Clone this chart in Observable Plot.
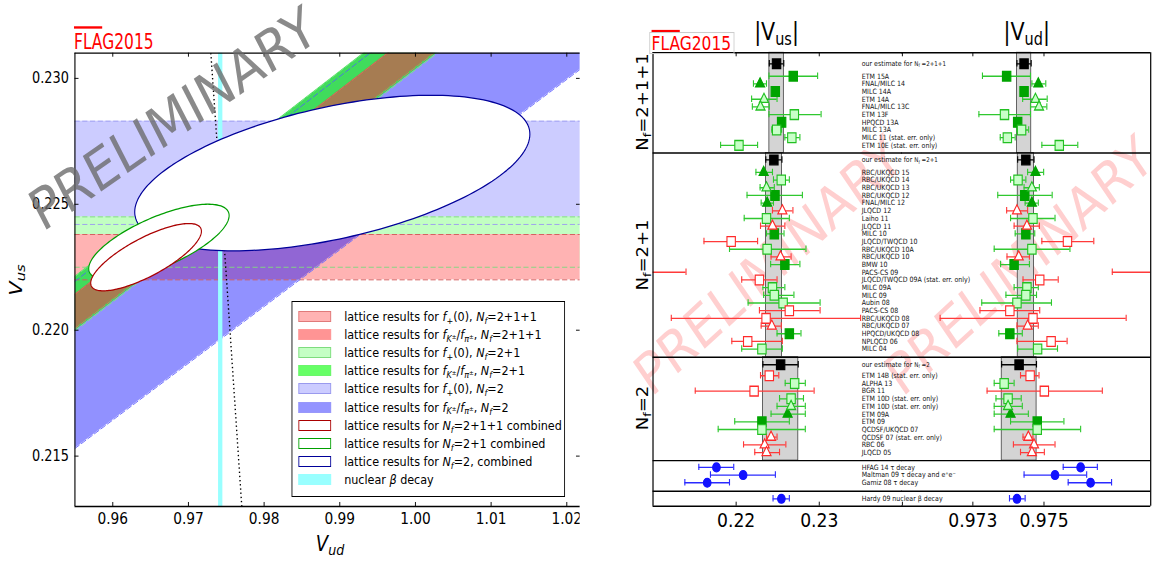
<!DOCTYPE html>
<html>
<head>
<meta charset="utf-8">
<script src="https://cdn.jsdelivr.net/npm/d3@7"></script>
<script src="https://cdn.jsdelivr.net/npm/@observablehq/plot@0.6"></script>
<style>
  html, body { margin: 0; padding: 0; background: #fff; overflow: hidden; width: 1153px; height: 562px; }
  #wrap { position: relative; width: 1341px; height: 562px; transform: scaleX(0.86); transform-origin: 0 0;
          font-family: "DejaVu Sans", sans-serif; color: #000; }
  .ov { position: absolute; white-space: nowrap; line-height: 1; font-family: "DejaVu Sans", sans-serif; }
  .ov sub { font-size: 70%; vertical-align: -0.28em; line-height: 0; }
  .ov sup { font-size: 70%; vertical-align: 0.45em; line-height: 0; }
  .lg-row { position: absolute; left: 0; height: 18px; width: 100%; }
  .lg-sw { position: absolute; top: 2px; height: 11px; box-sizing: border-box; border: 1.6px solid; }
  .lg-tx { position: absolute; top: 0; font-size: 13px; line-height: 16px; white-space: nowrap; }
  .lg-tx sub { font-size: 72%; vertical-align: -0.3em; line-height: 0; }
  .lg-tx sup { font-size: 70%; vertical-align: 0.5em; line-height: 0; }
</style>
</head>
<body>
<div id="wrap"></div>
<script>
// ===================== DATA : left panel (Vud vs Vus plane) =====================
const vudDomain = [0.955, 1.0218];
const vusDomain = [0.213, 0.231];
const vudTicks = [0.96, 0.97, 0.98, 0.99, 1.00, 1.01, 1.02];
const vusTicks = [0.215, 0.220, 0.225, 0.230];

// f+(0) results -> horizontal bands in Vus
const fPlusNf = ["2", "2+1", "2+1+1"];
const fPlusVusLow = [0.2242, 0.2225, 0.2220];
const fPlusVusHigh = [0.2283, 0.2245, 0.2238];

// fK/fpi results -> bands in the ratio Vus/Vud
const ratioNf = ["2", "2+1", "2+1+1"];
const ratioLow = [0.22545, 0.23034, 0.23044];
const ratioHigh = [0.2324, 0.2326, 0.23186];

// combined lattice results (error ellipses)
const ellipseNf = ["2", "2+1", "2+1+1"];
const ellipseVud = [0.98901, 0.96610, 0.96440];
const ellipseVus = [0.22624, 0.22350, 0.22290];
const ellipseVudHalf = [0.02611, 0.009278, 0.007316];
const ellipseVusHalf = [0.003089, 0.001503, 0.001336];
const ellipseCorr = [0.50, 0.70, 0.77];

// nuclear beta decay band and unitarity curve
const betaVud = [0.97397, 0.97454];
const unitarityVus = [0.213, 0.222, 0.231];
const unitarityVud = [0.97705, 0.97504, 0.97296];

const legendLabels = [
  'lattice results for <i>f</i><sub>+</sub>(0), <i>N<sub>f</sub></i>=2+1+1',
  'lattice results for <i>f</i><sub><i>K</i><sup>±</sup></sub>/<i>f</i><sub><i>π</i><sup>±</sup></sub>, <i>N<sub>f</sub></i>=2+1+1',
  'lattice results for <i>f</i><sub>+</sub>(0), <i>N<sub>f</sub></i>=2+1',
  'lattice results for <i>f</i><sub><i>K</i><sup>±</sup></sub>/<i>f</i><sub><i>π</i><sup>±</sup></sub>, <i>N<sub>f</sub></i>=2+1',
  'lattice results for <i>f</i><sub>+</sub>(0), <i>N<sub>f</sub></i>=2',
  'lattice results for <i>f</i><sub><i>K</i><sup>±</sup></sub>/<i>f</i><sub><i>π</i><sup>±</sup></sub>, <i>N<sub>f</sub></i>=2',
  'lattice results for <i>N<sub>f</sub></i>=2+1+1 combined',
  'lattice results for <i>N<sub>f</sub></i>=2+1 combined',
  'lattice results for <i>N<sub>f</sub></i>=2, combined',
  'nuclear <i>β</i> decay'
];

// ===================== DATA : right panel (|Vus|, |Vud| per result) =====================
const usDomain = [0.21, 0.24];
const udDomain = [0.971, 0.978];
const usTicks = [0.22, 0.23];
const udTicks = [0.973, 0.975];

const estNf = ["2+1+1", "2+1", "2"];
const estVus   = [0.22486, 0.22454, 0.22535];
const estVusLo = [0.22399, 0.22357, 0.22322];
const estVusHi = [0.22573, 0.22551, 0.22747];
const estVud   = [0.97444, 0.97449, 0.97430];
const estVudLo = [0.97424, 0.97426, 0.97381];
const estVudHi = [0.97464, 0.97472, 0.97479];

// Nf = 2+1+1  (method: "fK" = fK/fpi, "fp" = f+(0); rating: used / ok / fail)
const nf211Names = ["ETM 15A", "FNAL/MILC 14", "MILC 14A", "ETM 14A", "FNAL/MILC 13C", "ETM 13F", "HPQCD 13A", "MILC 13A", "MILC 11 (stat. err. only)", "ETM 10E (stat. err. only)"];
const nf211Method = ["fK", "fp", "fK", "fp", "fp", "fK", "fK", "fK", "fK", "fK"];
const nf211Rating = ["used", "used", "used", "ok", "ok", "ok", "used", "ok", "ok", "ok"];
const nf211Vus   = [0.22687, 0.22288, 0.22471, 0.22335, 0.22293, 0.22700, 0.22547, 0.22487, 0.22670, 0.22034];
const nf211VusLo = [0.22395, 0.22208, 0.22440, 0.22186, 0.22195, 0.22395, 0.22520, 0.22429, 0.22586, 0.21813];
const nf211VusHi = [0.22980, 0.22365, 0.22502, 0.22492, 0.22399, 0.23022, 0.22574, 0.22547, 0.22767, 0.22258];
const nf211Vud   = [0.97395, 0.97484, 0.97444, 0.97476, 0.97486, 0.97389, 0.97426, 0.97437, 0.97397, 0.97543];
const nf211VudLo = [0.97327, 0.97466, 0.97437, 0.97440, 0.97462, 0.97317, 0.97419, 0.97424, 0.97377, 0.97494];
const nf211VudHi = [0.97462, 0.97505, 0.97451, 0.97509, 0.97508, 0.97462, 0.97433, 0.97457, 0.97419, 0.97595];

// Nf = 2+1
const nf21Names = ["RBC/UKQCD 15", "RBC/UKQCD 14", "RBC/UKQCD 13", "RBC/UKQCD 12", "FNAL/MILC 12", "JLQCD 12", "Laiho 11", "JLQCD 11", "MILC 10", "JLQCD/TWQCD 10", "RBC/UKQCD 10A", "RBC/UKQCD 10", "BMW 10", "PACS-CS 09", "JLQCD/TWQCD 09A (stat. err. only)", "MILC 09A", "MILC 09", "Aubin 08", "PACS-CS 08", "RBC/UKQCD 08", "RBC/UKQCD 07", "HPQCD/UKQCD 08", "NPLQCD 06", "MILC 04"];
const nf21Method = ["fp", "fK", "fp", "fK", "fp", "fp", "fK", "fp", "fK", "fK", "fK", "fp", "fK", "fK", "fK", "fK", "fK", "fK", "fK", "fK", "fp", "fK", "fK", "fK"];
const nf21Rating = ["used", "ok", "ok", "used", "used", "fail", "ok", "fail", "used", "fail", "ok", "fail", "used", "fail", "fail", "ok", "ok", "ok", "fail", "fail", "fail", "used", "fail", "ok"];
const nf21Vus   = [0.22331, 0.22543, 0.22365, 0.22467, 0.22373, 0.22556, 0.22365, 0.22437, 0.22459, 0.21940, 0.22373, 0.22534, 0.22586, 0.2070, 0.22280, 0.22437, 0.22459, 0.22565, 0.22640, 0.22360, 0.22429, 0.22640, 0.22139, 0.22310];
const nf21VusLo = [0.22238, 0.22449, 0.22288, 0.22131, 0.22301, 0.22437, 0.22097, 0.22293, 0.22365, 0.21613, 0.21920, 0.22420, 0.22415, 0.2000, 0.22067, 0.22322, 0.22331, 0.22144, 0.22280, 0.21220, 0.22301, 0.22492, 0.21948, 0.22067];
const nf21VusHi = [0.22437, 0.22640, 0.22459, 0.22797, 0.22449, 0.22683, 0.22640, 0.22586, 0.22576, 0.22258, 0.22840, 0.22661, 0.22767, 0.21397, 0.22492, 0.22586, 0.22695, 0.23010, 0.23010, 0.23497, 0.22543, 0.22780, 0.22556, 0.22556];
const nf21Vud   = [0.97476, 0.97427, 0.97466, 0.97446, 0.97466, 0.97424, 0.97469, 0.97452, 0.97449, 0.97566, 0.97466, 0.97429, 0.97416, 0.9805, 0.97488, 0.97452, 0.97449, 0.97424, 0.97404, 0.97469, 0.97454, 0.97404, 0.97520, 0.97482];
const nf21VudLo = [0.97454, 0.97406, 0.97444, 0.97370, 0.97447, 0.97395, 0.97406, 0.97416, 0.97419, 0.97494, 0.97360, 0.97396, 0.97378, 0.97692, 0.97441, 0.97416, 0.97393, 0.97325, 0.97320, 0.97208, 0.97424, 0.97373, 0.97424, 0.97426];
const nf21VudHi = [0.97499, 0.97449, 0.97487, 0.97523, 0.97484, 0.97454, 0.97531, 0.97487, 0.97474, 0.97640, 0.97573, 0.97459, 0.97459, 0.9840, 0.97540, 0.97484, 0.97479, 0.97521, 0.97488, 0.97731, 0.97484, 0.97439, 0.97565, 0.97538];

// Nf = 2
const nf2Names = ["ETM 14B (stat. err. only)", "ALPHA 13", "BGR 11", "ETM 10D (stat. err. only)", "ETM 10D (stat. err. only)", "ETM 09A", "ETM 09", "QCDSF/UKQCD 07", "QCDSF 07 (stat. err. only)", "RBC 06", "JLQCD 05"];
const nf2Method = ["fK", "fK", "fK", "fK", "fp", "fp", "fK", "fK", "fp", "fp", "fp"];
const nf2Rating = ["fail", "ok", "fail", "ok", "ok", "used", "used", "ok", "fail", "fail", "fail"];
const nf2Vus   = [0.22399, 0.22704, 0.22216, 0.22661, 0.22661, 0.22619, 0.22310, 0.22310, 0.22420, 0.22343, 0.22365];
const nf2VusLo = [0.22293, 0.22590, 0.21508, 0.22522, 0.22492, 0.22420, 0.21983, 0.21784, 0.22365, 0.22089, 0.22224];
const nf2VusHi = [0.22513, 0.22832, 0.22938, 0.22810, 0.22832, 0.22832, 0.22640, 0.22832, 0.22492, 0.22598, 0.22522];
const nf2Vud   = [0.97461, 0.97388, 0.97501, 0.97399, 0.97399, 0.97406, 0.97481, 0.97481, 0.97456, 0.97472, 0.97466];
const nf2VudLo = [0.97434, 0.97360, 0.97340, 0.97365, 0.97360, 0.97360, 0.97406, 0.97360, 0.97441, 0.97414, 0.97434];
const nf2VudHi = [0.97486, 0.97416, 0.97664, 0.97436, 0.97439, 0.97456, 0.97556, 0.97603, 0.97469, 0.97531, 0.97501];

// phenomenology
const tauNames = ["HFAG 14 τ decay", "Maltman 09 τ decay and e⁺e⁻", "Gamiz 08 τ decay"];
const tauVus   = [0.21763, 0.22084, 0.21652];
const tauVusLo = [0.21551, 0.21691, 0.21383];
const tauVusHi = [0.21971, 0.22472, 0.21920];
const tauVud   = [0.97603, 0.97531, 0.97631];
const tauVudLo = [0.97554, 0.97444, 0.97568];
const tauVudHi = [0.97650, 0.97620, 0.97690];

const betaNames = ["Hardy 09 nuclear β decay"];
const betaVus   = [0.22544];
const betaVusLo = [0.22444];
const betaVusHi = [0.22640];
const betaVudR   = [0.97424];
const betaVudRLo = [0.97403];
const betaVudRHi = [0.97447];

// ===================== LAYOUT / DRAWING =====================
const S = 0.86;                 // horizontal squeeze of the reference figure
const U = px => px / S;         // reference px -> unsqueezed px
const wrap = document.getElementById("wrap");
function addDiv(html, style) {
  const d = document.createElement("div");
  d.className = "ov";
  d.innerHTML = html;
  Object.assign(d.style, style);
  wrap.appendChild(d);
  return d;
}
function addNode(node, left, topPx, w, h, z) {
  const d = document.createElement("div");
  Object.assign(d.style, {position: "absolute", left: left + "px", top: topPx + "px", width: w + "px", height: h + "px", zIndex: z});
  d.appendChild(node);
  wrap.appendChild(d);
  return d;
}

function watermark(cx, cy, angle, color, z) {
  return addDiv("PRELIMINARY", {left: cx + "px", top: cy + "px", fontSize: "57px", color,
    transform: `translate(-50%,-50%) rotate(${-angle}deg)`, zIndex: z});
}
watermark(U(768), 266, 38.3, "rgba(255,0,0,0.19)", 0);
watermark(U(1019), 266, 38.3, "rgba(255,0,0,0.19)", 0);

// ---------------- LEFT PANEL ----------------
const LP = {left: 74.5, right: 580, top: 52.7, bottom: 506};
const innerHL = LP.bottom - LP.top;
const innerWL = U(LP.right - LP.left);

const fPlusBands = fPlusNf.map((nf, i) => ({nf, lo: fPlusVusLow[i], hi: fPlusVusHigh[i]}));
const fPlusFill = {"2": "#ccccff", "2+1": "#c2ffc2", "2+1+1": "#ffb3b3"};
const fPlusEdge = {"2": "#9c9cf0", "2+1": "#80d880", "2+1+1": "#d25a5a"};
const ends = vudDomain.map(v => ({vud: v}));
const ratioBands = ratioNf.map((nf, i) => ({nf, lo: ratioLow[i], hi: ratioHigh[i]}));
const ratioStyle = {
  "2": {fill: "#0000ff", opacity: 0.43, edgeLo: "#6b6bff", edgeHi: "#4d6fe6"},
  "2+1": {fill: "#40dc5c", opacity: 1, edgeLo: "#7ee87e", edgeHi: "#7ee87e"},
  "2+1+1": {fill: "#a67c52", opacity: 1, edgeLo: "#e06a5a", edgeHi: "#e06a5a"}
};
const ellipseStroke = {"2": "#000099", "2+1": "#009e00", "2+1+1": "#aa0000"};
const ellipses = ellipseNf.map((nf, i) => {
  const phi = Math.acos(ellipseCorr[i]);
  const pts = d3.range(0, 361, 2).map(deg => {
    const t = deg * Math.PI / 180;
    return {vud: ellipseVud[i] + ellipseVudHalf[i] * Math.cos(t), vus: ellipseVus[i] + ellipseVusHalf[i] * Math.cos(t - phi)};
  });
  return {nf, pts};
});
const unitarity = unitarityVus.map((v, i) => ({vus: v, vud: unitarityVud[i]}));

const leftMarks = [];
fPlusBands.forEach(b => leftMarks.push(Plot.rect([b], {x1: () => vudDomain[0], x2: () => vudDomain[1], y1: "lo", y2: "hi", fill: fPlusFill[b.nf]})));
ratioBands.forEach(b => {
  const st = ratioStyle[b.nf];
  leftMarks.push(Plot.areaY(ends, {x: "vud", y1: d => b.lo * d.vud, y2: d => b.hi * d.vud, fill: st.fill, fillOpacity: st.opacity, clip: true}));
});
fPlusBands.forEach(b => leftMarks.push(Plot.ruleY([b.lo, b.hi], {stroke: fPlusEdge[b.nf], strokeWidth: 1, strokeDasharray: "6,3"})));
ratioBands.forEach(b => {
  const st = ratioStyle[b.nf];
  leftMarks.push(Plot.line(ends, {x: "vud", y: d => b.lo * d.vud, stroke: st.edgeLo, strokeWidth: 1, strokeDasharray: "6,3", clip: true}));
  leftMarks.push(Plot.line(ends, {x: "vud", y: d => b.hi * d.vud, stroke: st.edgeHi, strokeWidth: 1, strokeDasharray: "6,3", clip: true}));
});
leftMarks.push(Plot.rect([betaVud], {x1: d => d[0], x2: d => d[1], y1: () => vusDomain[0], y2: () => vusDomain[1], fill: "#99ffff"}));
leftMarks.push(Plot.line(unitarity, {x: "vud", y: "vus", stroke: "#000", strokeWidth: 1.6, strokeDasharray: "1.4,2.8", strokeLinecap: "butt", clip: true}));
ellipses.forEach(e => leftMarks.push(Plot.line(e.pts, {x: "vud", y: "vus", fill: "white", stroke: ellipseStroke[e.nf], strokeWidth: 1.3, clip: true})));
leftMarks.push(Plot.ruleY([vusDomain[1], vusDomain[0]], {stroke: "#000", strokeWidth: 1.3}));
leftMarks.push(Plot.ruleX([vudDomain[0]], {stroke: "#000", strokeWidth: 1.3}));
leftMarks.push(Plot.ruleX(vudTicks, {x: d => d, insetBottom: innerHL - 4, stroke: "#000"}));
leftMarks.push(Plot.ruleX(vudTicks, {x: d => d, insetTop: innerHL - 4, stroke: "#000"}));
leftMarks.push(Plot.ruleY(vusTicks, {y: d => d, insetRight: innerWL - U(4), stroke: "#000"}));
leftMarks.push(Plot.ruleY(vusTicks, {y: d => d, insetLeft: innerWL - U(4), stroke: "#000"}));
leftMarks.push(Plot.axisX({ticks: vudTicks, tickSize: 0, tickPadding: 6, tickFormat: d3.format(".2f"), fontSize: 16, label: null}));
leftMarks.push(Plot.axisY({ticks: vusTicks, tickSize: 0, tickPadding: U(6), tickFormat: d3.format(".3f"), fontSize: 15, label: null}));

const leftPlot = Plot.plot({
  width: U(580), height: 562,
  marginLeft: U(LP.left), marginRight: 0, marginTop: LP.top, marginBottom: 562 - LP.bottom,
  x: {domain: vudDomain}, y: {domain: vusDomain},
  style: {background: "none", fontFamily: "DejaVu Sans, sans-serif", maxWidth: "none", overflow: "hidden"},
  marks: leftMarks
});
addNode(leftPlot, 0, 0, U(580), 562, 1);

// ---------------- RIGHT PANEL ----------------
const RP = {left: 652.3, mid: 901.7, right: 1150.7, top: 52.3, bottom: 505.7};
const sectionLayout = [
  {pad: 1.43, gap: 1.62, tail: 0.99},
  {pad: 0.91, gap: 1.62, tail: 1.06},
  {pad: 0.98, gap: 1.43, tail: 1.05},
  {pad: 0.88, gap: 0, tail: 1.11},
  {pad: 0.98, gap: 0, tail: 0.96}
];
const sections = [
  {nf: "2+1+1", est: 0, names: nf211Names, method: nf211Method, rating: nf211Rating, vus: nf211Vus, vusLo: nf211VusLo, vusHi: nf211VusHi, vud: nf211Vud, vudLo: nf211VudLo, vudHi: nf211VudHi},
  {nf: "2+1", est: 1, names: nf21Names, method: nf21Method, rating: nf21Rating, vus: nf21Vus, vusLo: nf21VusLo, vusHi: nf21VusHi, vud: nf21Vud, vudLo: nf21VudLo, vudHi: nf21VudHi},
  {nf: "2", est: 2, names: nf2Names, method: nf2Method, rating: nf2Rating, vus: nf2Vus, vusLo: nf2VusLo, vusHi: nf2VusHi, vud: nf2Vud, vudLo: nf2VudLo, vudHi: nf2VudHi},
  {nf: null, est: null, names: tauNames, method: null, rating: null, vus: tauVus, vusLo: tauVusLo, vusHi: tauVusHi, vud: tauVud, vudLo: tauVudLo, vudHi: tauVudHi},
  {nf: null, est: null, names: betaNames, method: null, rating: null, vus: betaVus, vusLo: betaVusLo, vusHi: betaVusHi, vud: betaVudR, vudLo: betaVudRLo, vudHi: betaVudRHi}
];
const rows = [], estRows = [], bounds = [0], secInfo = [];
let cursor = 0;
sections.forEach((s, si) => {
  const lay = sectionLayout[si];
  let first, er = null;
  if (s.est !== null) {
    const j = s.est, ey = cursor + lay.pad;
    er = {name: "our estimate for N_f=" + estNf[j], y: ey, kind: "est", sym: "square",
      vus: estVus[j], vusLo: estVusLo[j], vusHi: estVusHi[j], vud: estVud[j], vudLo: estVudLo[j], vudHi: estVudHi[j]};
    rows.push(er); estRows.push(er);
    first = ey + lay.gap;
  } else first = cursor + lay.pad;
  s.names.forEach((n, i) => rows.push({
    name: n, y: first + i,
    kind: s.rating ? s.rating[i] : "pheno",
    sym: s.method ? (s.method[i] === "fp" ? "triangle" : "square") : "circle",
    vus: s.vus[i], vusLo: s.vusLo[i], vusHi: s.vusHi[i], vud: s.vud[i], vudLo: s.vudLo[i], vudHi: s.vudHi[i]
  }));
  const bottom = first + s.names.length - 1 + lay.tail;
  secInfo.push({nf: s.nf, y0: cursor, y1: bottom});
  if (er) { er.y0 = cursor; er.y1 = bottom; }
  bounds.push(bottom);
  cursor = bottom;
});
const totalRows = cursor;

const kindStyle = {
  used: {fill: "#00a400", stroke: "#00a400", bar: "#2fc82f"},
  ok: {fill: "#c8ffc8", stroke: "#22c022", bar: "#2fc82f"},
  fail: {fill: "#ffffff", stroke: "#ff2a2a", bar: "#ff3a3a"},
  pheno: {fill: "#1212ff", stroke: "#1212ff", bar: "#2a2aff"},
  est: {fill: "#000000", stroke: "#000000", bar: "#000000"}
};
const symR = {square: 5.5, triangle: 3.9, circle: 4.4};
const CAP = 0.42;

function halfPlot(isUs) {
  const dom = isUs ? usDomain : udDomain;
  const k = isUs ? "vus" : "vud";
  const lo = k + "Lo", hi = k + "Hi";
  const width = isUs ? U(RP.mid - 600) : U(1153 - RP.mid);
  const mL = isUs ? U(RP.left - 600) : 0;
  const mR = isUs ? 0 : U(1153 - RP.right);
  const innerH = RP.bottom - RP.top;
  const ticks = isUs ? usTicks.concat([usDomain[1]]) : udTicks;
  const marks = [];
  marks.push(Plot.rect(estRows, {x1: lo, x2: hi, y1: "y0", y2: "y1", fill: "#d4d4d4", stroke: "#3c3c3c", strokeWidth: 0.9}));
  Object.keys(kindStyle).forEach(kind => {
    const sub = rows.filter(r => r.kind === kind);
    const c = kindStyle[kind].bar;
    marks.push(Plot.ruleY(sub, {y: "y", x1: lo, x2: hi, stroke: c, strokeWidth: 1.3, clip: true}));
    marks.push(Plot.ruleX(sub, {x: lo, y1: d => d.y - CAP, y2: d => d.y + CAP, stroke: c, strokeWidth: 1.3, clip: true}));
    marks.push(Plot.ruleX(sub, {x: hi, y1: d => d.y - CAP, y2: d => d.y + CAP, stroke: c, strokeWidth: 1.3, clip: true}));
  });
  Object.keys(kindStyle).forEach(kind => {
    ["square", "triangle", "circle"].forEach(sym => {
      const sub = rows.filter(r => r.kind === kind && r.sym === sym);
      if (!sub.length) return;
      const st = kindStyle[kind];
      marks.push(Plot.dot(sub, {x: k, y: "y", symbol: sym, r: symR[sym], fill: st.fill, stroke: st.stroke, strokeWidth: 1.3, clip: true}));
    });
  });
  marks.push(Plot.ruleY(bounds, {y: d => d, stroke: "#000", strokeWidth: 1.4}));
  marks.push(Plot.ruleX([isUs ? dom[0] : dom[1]], {stroke: "#000", strokeWidth: 1.4}));
  marks.push(Plot.ruleX(ticks, {x: d => d, insetBottom: innerH - 4, stroke: "#000"}));
  marks.push(Plot.ruleX(ticks, {x: d => d, insetTop: innerH - 4, stroke: "#000"}));
  marks.push(Plot.axisX({ticks: isUs ? usTicks : udTicks, tickSize: 0, tickPadding: 7, tickFormat: d => String(d), fontSize: 20, label: null}));
  if (isUs) {
    marks.push(Plot.text(rows, {y: "y", text: "name", frameAnchor: "left", dx: U(861 - RP.left), textAnchor: "start", fontSize: 7.3, fill: "#111"}));
  }
  const p = Plot.plot({
    width, height: 562, marginLeft: mL, marginRight: mR, marginTop: RP.top, marginBottom: 562 - RP.bottom,
    x: {domain: dom}, y: {domain: [0, totalRows], reverse: true, axis: null},
    style: {background: "none", fontFamily: "DejaVu Sans, sans-serif", maxWidth: "none", overflow: "visible"},
    marks
  });
  d3.select(p).selectAll("text").each(function () {
    const t = this.textContent;
    const j = t.indexOf("N_f");
    if (j < 0) return;
    const sel = d3.select(this);
    sel.text(null);
    sel.append("tspan").text(t.slice(0, j));
    sel.append("tspan").attr("font-size", "88%").text("N");
    sel.append("tspan").attr("font-size", "62%").attr("dy", "0.3em").text("f");
    sel.append("tspan").attr("font-size", "88%").attr("dy", "-0.28em").text(" " + t.slice(j + 3));
  });
  return p;
}
const usPlot = halfPlot(true);
const udPlot = halfPlot(false);
addNode(usPlot, U(600), 0, U(RP.mid - 600), 562, 1);
addNode(udPlot, U(RP.mid), 0, U(1153 - RP.mid), 562, 1);
const yRight = usPlot.scale("y");

// ---------------- overlays ----------------
watermark(U(172.5), 118.5, 30.9, "rgba(105,105,105,0.78)", 3);

const logoHtml = '<span style="text-decoration: overline; text-decoration-thickness: 2px;">FLA</span>G2015';
addDiv(logoHtml, {left: U(74) + "px", top: "31px", fontSize: "18px", color: "#ff0000", transform: "scaleY(1.18)", transformOrigin: "0 0", zIndex: 4});
addDiv(logoHtml, {left: U(649) + "px", top: "31.5px", fontSize: "18px", color: "#ff0000", transform: "scaleY(1.05)", transformOrigin: "0 0",
  border: "1px solid #cccccc", padding: "0 3px 0 2px", lineHeight: "19px", zIndex: 4});

addDiv('<i>V</i><sub><i>ud</i></sub>', {left: U(330) + "px", top: "534px", fontSize: "21px", transform: "translateX(-50%)", zIndex: 4});
addDiv('<i>V</i><sub><i>us</i></sub>', {left: U(16) + "px", top: "280px", fontSize: "21px", transform: "translate(-50%,-50%) rotate(-90deg)", zIndex: 4});

addDiv('|V<sub>us</sub>|', {left: U(776.5) + "px", top: "20px", fontSize: "24px", transform: "translateX(-50%)", zIndex: 4});
addDiv('|V<sub>ud</sub>|', {left: U(1026.7) + "px", top: "20px", fontSize: "24px", transform: "translateX(-50%)", zIndex: 4});

secInfo.filter(s => s.nf).forEach(s => {
  const cy = (yRight.apply(s.y0) + yRight.apply(s.y1)) / 2;
  addDiv('N<sub>f</sub>=' + s.nf, {left: U(643) + "px", top: cy + "px", fontSize: "18px", transform: "translate(-50%,-50%) rotate(-90deg)", zIndex: 4});
});

const legendSwatch = [
  {fill: "#ffb3b3", border: "#e07a7a"}, {fill: "#ff9494", border: "#ff9a9a"},
  {fill: "#c4ffc4", border: "#7edc7e"}, {fill: "#66ff66", border: "#6cf56c"},
  {fill: "#ccccff", border: "#9a9aee"}, {fill: "#9494ff", border: "#9898fa"},
  {fill: "#ffffff", border: "#aa0000"}, {fill: "#ffffff", border: "#00a000"},
  {fill: "#ffffff", border: "#000099"}, {fill: "#99ffff", border: "#99ffff"}
];
const lg = document.createElement("div");
Object.assign(lg.style, {position: "absolute", left: U(291.5) + "px", top: "300.5px", width: U(565 - 291.5) + "px", height: "196px",
  border: "1.2px solid #000", background: "#fff", boxSizing: "border-box", zIndex: 5, fontFamily: "DejaVu Sans, sans-serif"});
legendLabels.forEach((lab, i) => {
  const row = document.createElement("div");
  row.className = "lg-row";
  row.style.top = (7 + 18.22 * i) + "px";
  const sw = document.createElement("div");
  sw.className = "lg-sw";
  Object.assign(sw.style, {left: U(297.3 - 291.5) + "px", width: U(330 - 297.3) + "px", background: legendSwatch[i].fill, borderColor: legendSwatch[i].border});
  const tx = document.createElement("div");
  tx.className = "lg-tx";
  tx.style.left = U(343.3 - 291.5) + "px";
  tx.innerHTML = lab;
  row.appendChild(sw); row.appendChild(tx);
  lg.appendChild(row);
});
wrap.appendChild(lg);
</script>
</body>
</html>
